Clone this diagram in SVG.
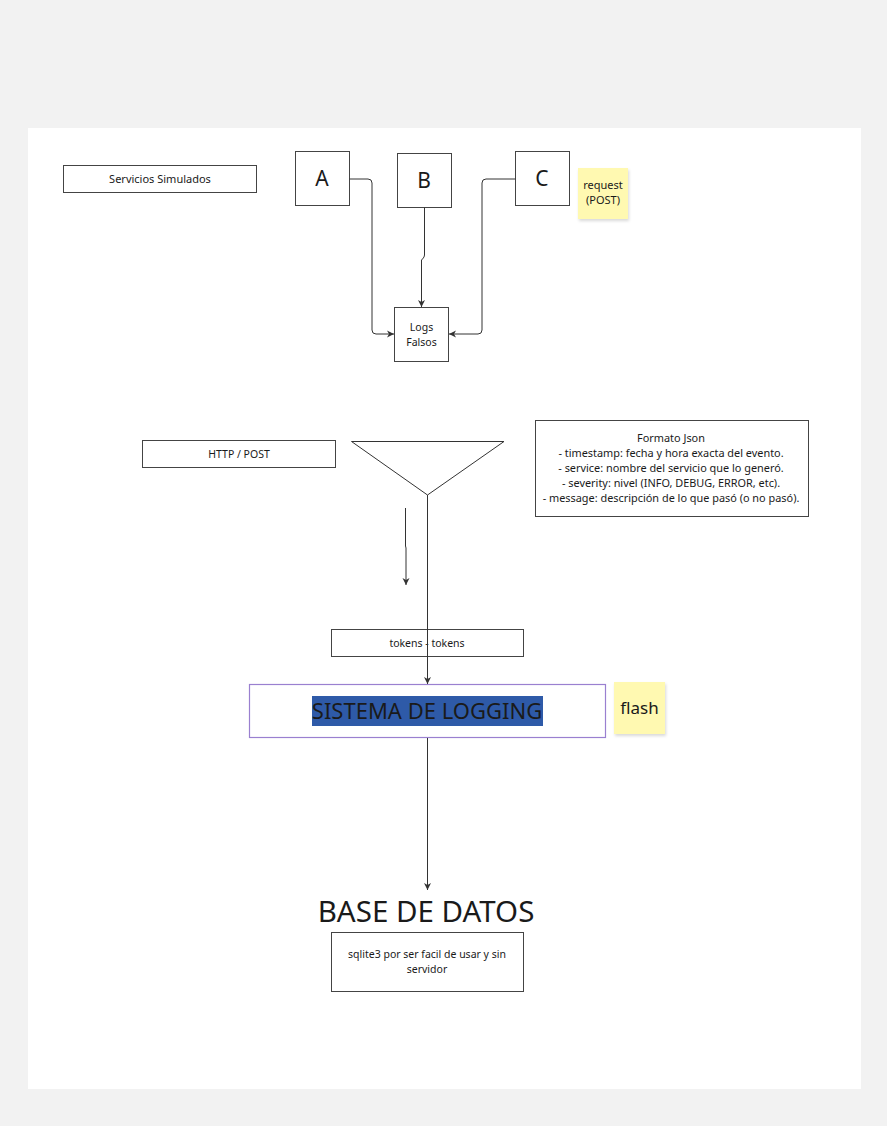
<svg xmlns="http://www.w3.org/2000/svg" width="887" height="1126" viewBox="0 0 887 1126">
<defs>
<marker id="arr" markerWidth="8" markerHeight="8" refX="7" refY="4" orient="auto" markerUnits="userSpaceOnUse">
<path d="M0,0.5 L7,4 L0,7.5 L2,4 Z" fill="#333"/>
</marker>
<filter id="sh" x="-20%" y="-20%" width="150%" height="150%">
<feDropShadow dx="1" dy="2" stdDeviation="1.5" flood-color="#000" flood-opacity="0.15"/>
</filter>
</defs>
<style>
text{font-family:"Noto Sans","Open Sans","Liberation Sans",sans-serif;fill:#1a1a1a;text-anchor:middle}
.box{fill:#fff;stroke:#444;stroke-width:1}
.sticky{fill:#fff9b1;filter:url(#sh)}
.con{fill:none;stroke:#333;stroke-width:1}
.s11{font-size:11px}
.s10{font-size:10.5px}
.sj{font-size:10.9px}
.big{font-size:21px}
</style>
<rect x="0" y="0" width="887" height="1126" fill="#f2f2f2"/>
<rect x="28" y="128" width="833" height="961" fill="#fff"/>

<g id="servicios">
<rect class="box" x="63.5" y="165.5" width="193" height="27"/>
<text class="s11" x="160" y="183">Servicios Simulados</text>
</g>
<g id="nodeA">
<rect class="box" x="295.5" y="151.5" width="54" height="54"/>
<text class="big" x="322" y="186">A</text>
</g>
<g id="nodeB">
<rect class="box" x="397.5" y="153.5" width="54" height="54"/>
<text class="big" x="424" y="188">B</text>
</g>
<g id="nodeC">
<rect class="box" x="515.5" y="151.5" width="54" height="54"/>
<text class="big" x="542" y="186">C</text>
</g>
<g id="request">
<rect class="sticky" x="578" y="168" width="50" height="51"/>
<text class="s11" x="603" y="189">request</text>
<text class="s11" x="603" y="204">(POST)</text>
</g>
<g id="logs">
<rect class="box" x="394.5" y="307.5" width="54" height="54"/>
<text class="s10" x="421.5" y="331">Logs</text>
<text class="s10" x="421.5" y="346">Falsos</text>
</g>
<g id="http">
<rect class="box" x="142.5" y="440.5" width="193" height="27"/>
<text class="s10" x="239" y="458">HTTP / POST</text>
</g>
<g id="funnel">
<path d="M351.5,441.5 L504,441.5 L427.5,495 Z" fill="#fff" stroke="#333" stroke-width="1"/>
</g>
<g id="json">
<rect class="box" x="535.5" y="420.5" width="273" height="96"/>
<text class="sj" x="671" y="442">Formato Json</text>
<text class="sj" x="671" y="457">- timestamp: fecha y hora exacta del evento.</text>
<text class="sj" x="671" y="472">- service: nombre del servicio que lo generó.</text>
<text class="sj" x="671" y="487">- severity: nivel (INFO, DEBUG, ERROR, etc).</text>
<text class="sj" x="671" y="502">- message: descripción de lo que pasó (o no pasó).</text>
</g>
<g id="tokens">
<rect class="box" x="331.5" y="629.5" width="192" height="27"/>
<text class="s10" x="427" y="647">tokens - tokens</text>
</g>
<g id="sistema">
<rect x="249.5" y="684.5" width="356" height="53" fill="#fff" stroke="#9a80d0" stroke-width="1.2"/>
<rect x="312" y="696" width="231" height="30" fill="#2e5aa8"/>
<text x="427" y="719" style="font-size:22px">SISTEMA DE LOGGING</text>
</g>
<g id="flash">
<rect class="sticky" x="614" y="682" width="51" height="52"/>
<text x="639.5" y="714" style="font-size:17px">flash</text>
</g>
<g id="basedatos">
<text x="426" y="922" style="font-size:29.5px">BASE DE DATOS</text>
</g>
<g id="sqlite">
<rect class="box" x="331.5" y="932.5" width="192" height="59"/>
<text class="s10" x="427" y="958">sqlite3 por ser facil de usar y sin</text>
<text class="s10" x="427" y="973">servidor</text>
</g>

<g id="connectors">
<path class="con" d="M349.5,179 L368,179 Q372,179 372,183 L372,330 Q372,334 376,334 L394,334" marker-end="url(#arr)"/>
<path class="con" d="M424.5,207.5 L424.5,255 Q424.5,257 422.5,259 L421.5,260 L421.5,307" marker-end="url(#arr)"/>
<path class="con" d="M515.5,179 L486,179 Q482,179 482,183 L482,330 Q482,334 478,334 L449,334" marker-end="url(#arr)"/>
<path class="con" d="M427.5,495 L427.5,684" marker-end="url(#arr)"/>
<path class="con" d="M405.5,508 L405.5,546 L406,548 L406,585" marker-end="url(#arr)"/>
<path class="con" d="M427.5,738 L427.5,890" marker-end="url(#arr)"/>
</g>
</svg>
